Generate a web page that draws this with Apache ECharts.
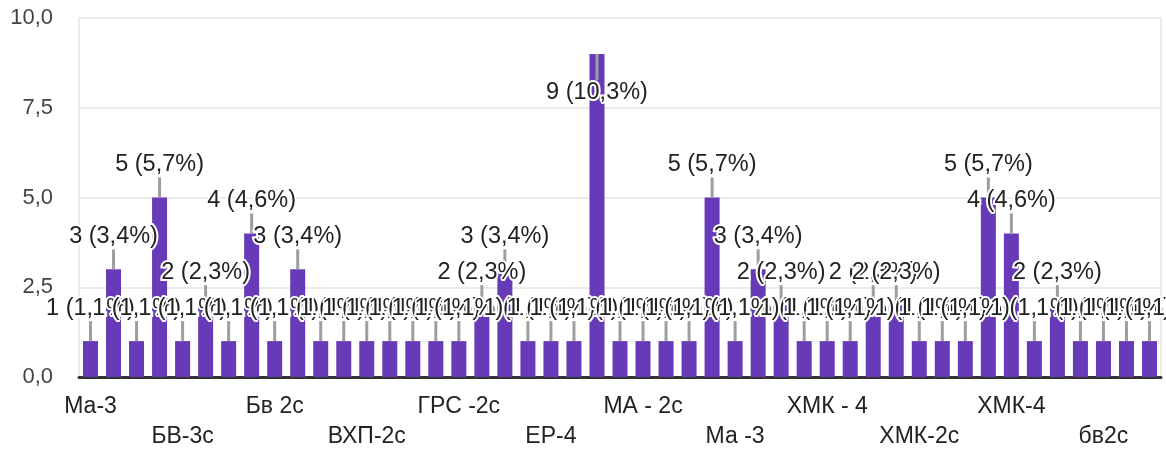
<!DOCTYPE html>
<html>
<head>
<meta charset="utf-8">
<title>chart</title>
<script src="https://cdn.jsdelivr.net/npm/echarts@6/dist/echarts.min.js"></script>
<style>
  html, body { margin: 0; padding: 0; background: #fff; }
  #chart { width: 1166px; height: 452px; }
</style>
</head>
<body>
<div id="chart"></div>
<script>
// categories (only every 4th name is shown on the axis)
const categories = [
  'Ма-3', 'АТП-3', 'Б-2с', 'БВ - 3', 'БВ-3с', 'БВ-4', 'БВ2с', 'Бв - 3',
  'Бв 2с', 'Бв-3', 'Бв-4', 'ВХП - 2с', 'ВХП-2с', 'ВХП-3', 'ГРС - 2с', 'ГРС - 3',
  'ГРС -2с', 'ГРС-2с', 'ГРС-3', 'ЕР - 4', 'ЕР-4', 'ЕР-4с', 'МА - 2', 'МА -2с',
  'МА - 2с', 'МА-2с', 'МА-3', 'Ма - 3', 'Ма -3', 'Ма-3с', 'ХМК - 2с', 'ХМК - 3',
  'ХМК - 4', 'ХМК -2с', 'ХМК -4', 'ХМК-2', 'ХМК-2с', 'ХМК-3', 'ХМК-3с', 'ХМК-3 с',
  'ХМК-4', 'ХМК-4с', 'бв 2с', 'бв-2с', 'бв2с', 'бв3с', 'хмк-4'
]
const counts = [
  1, 3, 1, 5, 1, 2, 1, 4, 1, 3,
  1, 1, 1, 1, 1, 1, 1, 2, 3, 1,
  1, 1, 9, 1, 1, 1, 1, 5, 1, 3,
  2, 1, 1, 1, 2, 2, 1, 1, 1, 5,
  4, 1, 2, 1, 1, 1, 1
]
const yTicks = [0, 2.5, 5, 7.5, 10]

const total = counts.reduce((a, b) => a + b, 0)
const maxVal = Math.max.apply(null, counts)
const FONT = '"Liberation Sans", Arial, sans-serif'

const chart = echarts.init(document.getElementById('chart'))
chart.setOption({
  animation: false,
  grid: {
    left: 79, right: 5, top: 18, bottom: 75,
    show: true, borderColor: '#ebebeb', borderWidth: 2
  },
  xAxis: {
    type: 'category',
    data: categories,
    axisTick: { show: false },
    axisLine: { lineStyle: { color: '#333', width: 3 } },
    axisLabel: {
      interval: 3,
      margin: 15,
      fontFamily: FONT,
      fontSize: 23,
      lineHeight: 30,
      color: '#222',
      formatter: function (v, i) {
        return (i / 4) % 2 === 1 ? '\n' + v : v
      }
    }
  },
  yAxis: {
    type: 'value',
    min: yTicks[0],
    max: yTicks[yTicks.length - 1],
    interval: 2.5,
    axisLine: { show: false },
    axisTick: { show: false },
    splitLine: { lineStyle: { color: '#ebebeb', width: 2 } },
    axisLabel: {
      margin: 26,
      fontFamily: FONT,
      fontSize: 22,
      color: '#444',
      formatter: v => v.toFixed(1).replace('.', ',')
    }
  },
  series: [
    {
      type: 'bar',
      data: counts,
      barWidth: 15,
      z: 2,
      itemStyle: { color: '#673ab7' }
    },
    {
      // label guide lines
      type: 'custom',
      z: 3,
      silent: true,
      data: counts.map((v, i) => [i, v]),
      renderItem: function (params, api) {
        const p = api.coord([api.value(0), api.value(1)])
        const down = api.value(1) === maxVal
        return {
          type: 'line',
          shape: { x1: p[0], y1: p[1], x2: p[0], y2: down ? p[1] + 26 : p[1] - 20 },
          style: { stroke: '#9e9e9e', lineWidth: 3 }
        }
      }
    },
    {
      // value labels
      type: 'bar',
      data: counts.map(v => ({
        value: v,
        label: v === maxVal ? { position: 'insideTop', distance: 27 } : {}
      })),
      barWidth: 15,
      barGap: '-100%',
      z: 4,
      silent: true,
      itemStyle: { color: 'rgba(0,0,0,0)' },
      label: {
        show: true,
        position: 'top',
        distance: 21,
        fontFamily: FONT,
        fontSize: 23.5,
        color: '#222',
        textBorderColor: '#fff',
        textBorderWidth: 4,
        formatter: p => p.value + ' (' + (p.value / total * 100).toFixed(1).replace('.', ',') + '%)'
      }
    }
  ]
})
</script>
</body>
</html>
